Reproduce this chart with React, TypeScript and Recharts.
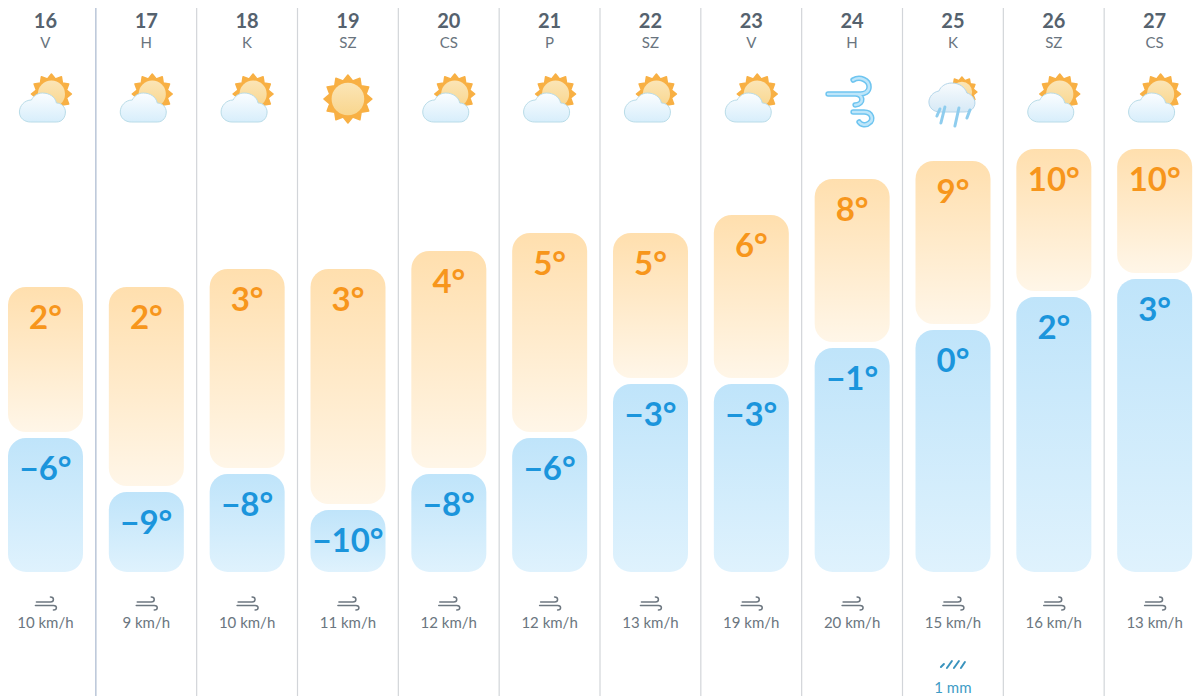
import React from "react";
import { BarChart, Bar, XAxis, YAxis, LabelList } from "recharts";

const days = ["16", "17", "18", "19", "20", "21", "22", "23", "24", "25", "26", "27"];
const weekdays = ["V", "H", "K", "SZ", "CS", "P", "SZ", "V", "H", "K", "SZ", "CS"];
const icons = ["partly", "partly", "partly", "sun", "partly", "partly", "partly", "partly", "wind", "rain", "partly", "partly"];
const highs = [2, 2, 3, 3, 4, 5, 5, 6, 8, 9, 10, 10];
const lows = [-6, -9, -8, -10, -8, -6, -3, -3, -1, 0, 2, 3];
// where the bars really end on the picture, in degrees
const highTops = [2.39, 2.39, 3.39, 3.39, 4.39, 5.39, 5.39, 6.39, 8.39, 9.39, 10.06, 10.06];
const lowTops = [-6, -9, -8, -10, -8, -6, -3, -3, -1, 0, 1.83, 2.83];
const barFloor = -13.44;
const barGapDeg = 0.33;
const winds = [10, 9, 10, 11, 12, 12, 13, 19, 20, 15, 16, 13];
const rain = ["", "", "", "", "", "", "", "", "", "1 mm", "", ""];

const FONT = "Lato, sans-serif";
const W = 1210;
const H = 700;
const BAND = W / days.length;

const fmt = (t: number) => (t < 0 ? `\u2212${-t}°` : `${t}°`);

const chartData = days.map((d, i) => ({
  day: d,
  highRange: [lowTops[i] + barGapDeg, highTops[i]],
  lowRange: [barFloor, lowTops[i]],
  highLabel: fmt(highs[i]),
  lowLabel: fmt(lows[i]),
}));

const sunPoints = (cx: number, cy: number, outer: number, inner: number, n: number) => {
  const pts: string[] = [];
  for (let k = 0; k < n * 2; k++) {
    const r = k % 2 === 0 ? outer : inner;
    const a = (Math.PI * k) / n - Math.PI / 2;
    pts.push(`${(cx + r * Math.cos(a)).toFixed(1)},${(cy + r * Math.sin(a)).toFixed(1)}`);
  }
  return pts.join(" ");
};

const Sun = ({ cx, cy, r }: { cx: number; cy: number; r: number }) => (
  <g>
    <polygon points={sunPoints(cx, cy, r, r * 0.78, 12)} fill="#F8B044" stroke="#F8B044" strokeWidth={1.5} strokeLinejoin="round" />
    <circle cx={cx} cy={cy} r={r * 0.68} fill="url(#sunDisc)" />
  </g>
);

const WeatherIcon = ({ kind }: { kind: string }) => {
  if (kind === "sun") {
    return <Sun cx={0} cy={99} r={24} />;
  }
  if (kind === "wind") {
    const curls = "M1 80 C8 76 17 80 17 87 C17 92 12 94 8 94 H-24 M3 94 C11 94 13 104 3 105 M1 112 H12 C20 112 22 120 17 123 C14 126 9 125 7 122";
    return (
      <g fill="none" strokeLinecap="round" strokeLinejoin="round">
        <path d={curls} stroke="#6FC5F0" strokeWidth={5.5} />
        <path d={curls} stroke="#BEE6FA" strokeWidth={2.5} />
      </g>
    );
  }
  if (kind === "rain") {
    return (
      <g>
        <Sun cx={9} cy={92} r={15} />
        <path
          d="M-13 112 H11 C18 112 22 108 22 103 C22 98 18 94 14 93 C12 87 6 83 -1 83 C-7 83 -12 86 -14 91 C-20 92 -24 97 -24 102 C-24 108 -19 112 -13 112 Z"
          fill="url(#rainCloud)"
          stroke="#B4D6EA"
          strokeWidth={1}
        />
        <path
          d="M-13 109 L-16 116 M-8 107 L-12 123 M6 108 L2 126 M17 110 L14 118"
          stroke="#8FCDEE"
          strokeWidth={3}
          strokeLinecap="round"
        />
      </g>
    );
  }
  return (
    <g>
      <Sun cx={6} cy={94} r={20} />
      <path
        d="M-15 122 H11 C17 122 20 117 20 112 C20 107 16 103 11 103 C10 97 4 93 -3 93 C-8 93 -12 96 -14 100 C-21 100 -26 106 -26 112 C-26 118 -21 122 -15 122 Z"
        fill="url(#cloud)"
        stroke="#B9DCE8"
        strokeWidth={1}
      />
    </g>
  );
};

const TopTick = ({ x, payload }: any) => {
  const i = payload.index;
  return (
    <g transform={`translate(${x},0)`}>
      {i > 0 && (
        <line
          x1={-BAND / 2}
          x2={-BAND / 2}
          y1={8}
          y2={696}
          stroke={i === 1 ? "#BAC6D8" : "#D2D5D9"}
          strokeWidth={i === 1 ? 1.5 : 1.2}
        />
      )}
      <text x={0} y={28} textAnchor="middle" fontFamily={FONT} fontWeight={700} fontSize={20} fill="#55626E">
        {days[i]}
      </text>
      <text x={0} y={48} textAnchor="middle" fontFamily={FONT} fontSize={15} fill="#69747E">
        {weekdays[i]}
      </text>
      <WeatherIcon kind={icons[i]} />
    </g>
  );
};

const BottomTick = ({ x, payload }: any) => {
  const i = payload.index;
  return (
    <g transform={`translate(${x},0)`}>
      <path
        d="M-9 602 H5 C9 602 9 597 5 597 M-10 605.5 H8 C12 605.5 12 610 8 610"
        fill="none"
        stroke="#6D7780"
        strokeWidth={1.5}
        strokeLinecap="round"
      />
      <text x={0} y={628} textAnchor="middle" fontFamily={FONT} fontSize={15} fill="#6B7680">
        {`${winds[i]} km/h`}
      </text>
      {rain[i] && (
        <g>
          <path
            d="M-12 667 L-9 664 M-6 668 L-1 661 M1 668 L6 661 M8 668 L12 662"
            stroke="#3A93BD"
            strokeWidth={2}
            strokeLinecap="round"
          />
          <text x={0} y={693} textAnchor="middle" fontFamily={FONT} fontSize={15} fill="#3E9CC6">
            {rain[i]}
          </text>
        </g>
      )}
    </g>
  );
};

const TempLabel = ({ x, y, width, value, color }: any) => (
  <text
    x={x + width / 2}
    y={y + 42}
    textAnchor="middle"
    fontFamily={FONT}
    fontWeight={700}
    fontSize={33}
    fill={color}
  >
    {value}
  </text>
);

export default function App() {
  return (
    <div style={{ position: "absolute", left: -5, top: 0, width: W, height: H, background: "#fff" }}>
      <BarChart
        width={W}
        height={H}
        data={chartData}
        margin={{ top: 7, right: 0, bottom: 3, left: 0 }}
        barSize={75}
        barGap={-75}
      >
        <defs>
          <linearGradient id="warm" x1="0" y1="0" x2="0" y2="1">
            <stop offset="0%" stopColor="#FFDFAE" />
            <stop offset="100%" stopColor="#FFF6E8" />
          </linearGradient>
          <linearGradient id="cold" x1="0" y1="0" x2="0" y2="1">
            <stop offset="0%" stopColor="#BFE4FA" />
            <stop offset="100%" stopColor="#DFF2FD" />
          </linearGradient>
          <linearGradient id="cloud" x1="0" y1="0" x2="0" y2="1">
            <stop offset="0%" stopColor="#FBFDFF" />
            <stop offset="100%" stopColor="#D7EEFB" />
          </linearGradient>
          <linearGradient id="rainCloud" x1="0" y1="0" x2="0" y2="1">
            <stop offset="0%" stopColor="#F8FBFD" />
            <stop offset="100%" stopColor="#D6E9F6" />
          </linearGradient>
          <linearGradient id="sunDisc" x1="0" y1="0" x2="0" y2="1">
            <stop offset="0%" stopColor="#FBE5B6" />
            <stop offset="100%" stopColor="#F9D68E" />
          </linearGradient>
        </defs>
        <XAxis
          xAxisId="top"
          dataKey="day"
          orientation="top"
          height={1}
          axisLine={false}
          tickLine={false}
          interval={0}
          tick={<TopTick />}
        />
        <XAxis
          xAxisId="bottom"
          dataKey="day"
          orientation="bottom"
          height={1}
          axisLine={false}
          tickLine={false}
          interval={0}
          tick={<BottomTick />}
        />
        <YAxis hide domain={[-20.333, 17.889]} allowDataOverflow />
        <Bar xAxisId="top" dataKey="highRange" fill="url(#warm)" radius={18} isAnimationActive={false}>
          <LabelList dataKey="highLabel" content={<TempLabel color="#F7961C" />} />
        </Bar>
        <Bar xAxisId="top" dataKey="lowRange" fill="url(#cold)" radius={18} isAnimationActive={false}>
          <LabelList dataKey="lowLabel" content={<TempLabel color="#1B95DC" />} />
        </Bar>
      </BarChart>
    </div>
  );
}
